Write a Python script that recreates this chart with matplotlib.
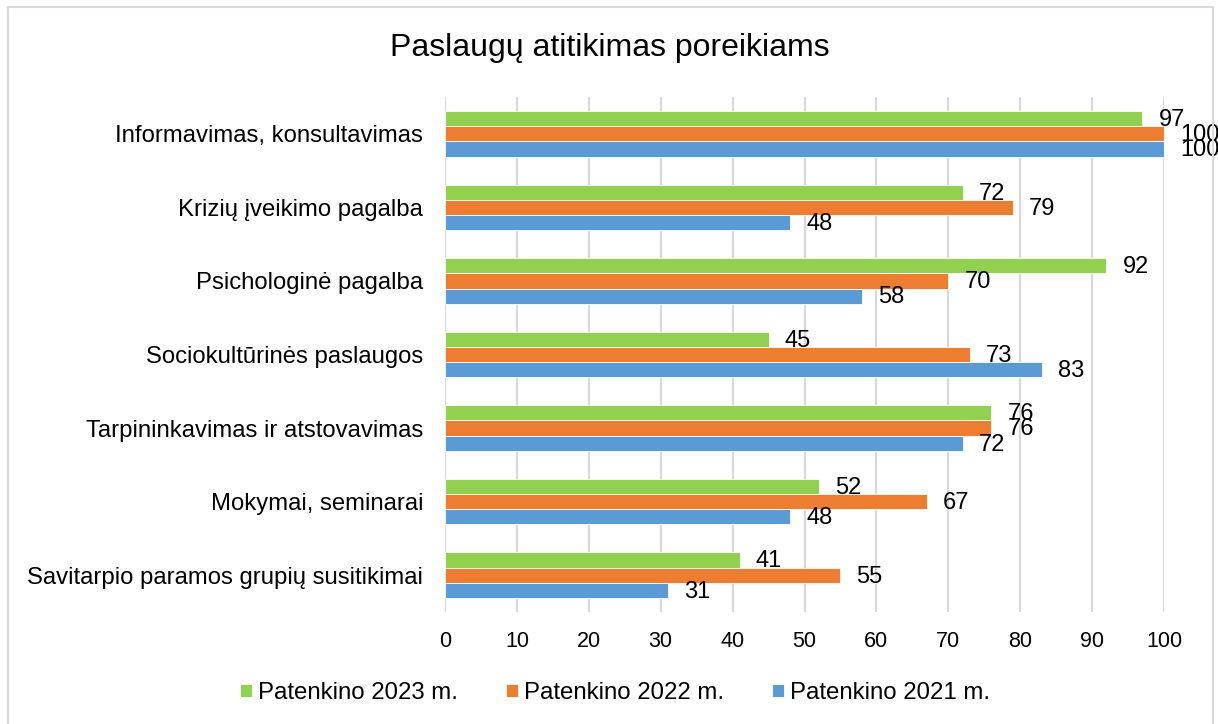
import matplotlib
matplotlib.use("Agg")
import matplotlib.pyplot as plt
from matplotlib.patches import Rectangle
import numpy as np

plt.rcParams['font.family'] = ['Liberation Sans', 'DejaVu Sans']

title = "Paslaugų atitikimas poreikiams"
categories = [
    "Informavimas, konsultavimas",
    "Krizių įveikimo pagalba",
    "Psichologinė pagalba",
    "Sociokultūrinės paslaugos",
    "Tarpininkavimas ir atstovavimas",
    "Mokymai, seminarai",
    "Savitarpio paramos grupių susitikimai",
]
series_names = ["Patenkino 2023 m.", "Patenkino 2022 m.", "Patenkino 2021 m."]
v2023 = [97, 72, 92, 45, 76, 52, 41]
v2022 = [100, 79, 70, 73, 76, 67, 55]
v2021 = [100, 48, 58, 83, 72, 48, 31]
colors = ["#92D050", "#ED7D31", "#5B9BD5"]
xticks = [0, 10, 20, 30, 40, 50, 60, 70, 80, 90, 100]

W, H = 1218, 724
fig = plt.figure(figsize=(W / 100, H / 100), dpi=100)
fig.patch.set_facecolor("white")

# outer chart frame
fig.add_artist(Rectangle((8 / W, -0.05), (1213 - 8) / W, 1 - 7 / H + 0.05,
                         transform=fig.transFigure, fill=False,
                         edgecolor="#d9d9d9", linewidth=1.5))

ax = fig.add_axes([445 / W, 1 - 612 / H, (1164 - 445) / W, (612 - 97) / H])
ax.set_facecolor("white")

y = np.arange(len(categories))
h = 0.206
series = [v2023, v2022, v2021]
offsets = [-h, 0, h]
for vals, col, off, name in zip(series, colors, offsets, series_names):
    bars = ax.barh(y + off, vals, height=h, color=col, label=name,
                   edgecolor="white", linewidth=0.6, zorder=3)
    for b, v in zip(bars, vals):
        ax.annotate(str(v), (b.get_width(), b.get_y() + b.get_height() / 2),
                    xytext=(11.5, -1), textcoords="offset points",
                    ha="left", va="center", fontsize=17, color="black",
                    zorder=4)

ax.set_xlim(0, 100)
ax.set_ylim(6.5, -0.5)
ax.set_xticks(xticks)
ax.set_yticks(y)
ax.set_yticklabels(categories, fontsize=17.2)
ax.tick_params(axis="x", labelsize=15.5, length=0, pad=14)
ax.tick_params(axis="y", length=0, pad=15.8)
ax.grid(axis="x", color="#d9d9d9", linewidth=1.6, zorder=0)
ax.set_axisbelow(True)
for s in ax.spines.values():
    s.set_visible(False)

fig.text(610 / W, 1 - 48 / H, title, ha="center", va="center", fontsize=23)

handles, labels = ax.get_legend_handles_labels()
fig.legend(handles, labels, loc="center", bbox_to_anchor=(615 / W, 1 - 693 / H),
           ncol=3, frameon=False, fontsize=17.3, handlelength=0.5,
           handleheight=0.5, handletextpad=0.25, columnspacing=2.0,
           borderpad=0, borderaxespad=0)

fig.savefig("out.png", dpi=100, facecolor="white")
